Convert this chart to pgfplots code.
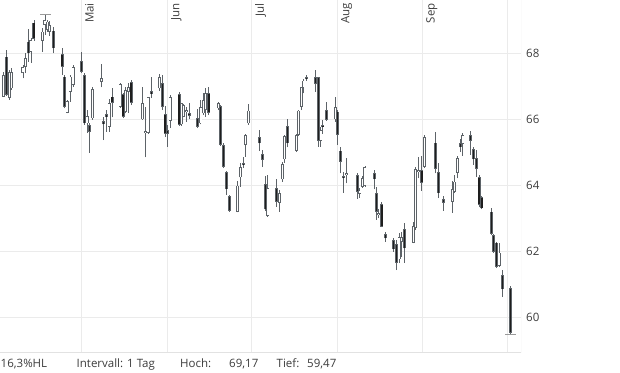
\documentclass[border=0pt]{standalone}
\usepackage{pgfplots}
\pgfplotsset{compat=1.18}
\usepackage{pgfplotstable}
\usepackage{fontspec}
\setmainfont{Open Sans}
\definecolor{gridc}{HTML}{EBEBEB}
\definecolor{framec}{HTML}{E2E2E2}
\definecolor{wickc}{HTML}{5D6368}
\definecolor{fillc}{HTML}{1E1E1E}
\definecolor{textc}{HTML}{3C3C3C}
\definecolor{hlc}{HTML}{9A9A9A}

% x = horizontal position (px scale, May 1 = 81), o h l c = open high low close
\pgfplotstableread{
x o h l c
3.7 66.68 67.43 66.66 67.33
9.3 66.63 67.49 66.58 67.43
11.5 66.93 67.54 66.88 67.43
23 67.39 67.64 67.23 67.57
25.5 67.58 68.01 67.39 67.84
31 68.04 68.45 67.71 68.39
42.3 68.37 68.75 68.04 68.65
45 68.85 69.17 68.55 69.00
47.3 68.70 69.00 68.64 68.95
49.7 68.65 68.97 68.51 68.85
67 66.19 66.58 66.17 66.55
70 66.83 67.33 66.53 67.28
73 67.03 67.64 66.98 67.58
87 65.87 66.27 65.57 66.09
92.3 66.02 66.98 65.97 66.91
101.7 67.13 67.67 66.96 67.23
109 65.77 66.60 65.62 66.49
120 66.36 67.09 66.33 67.06
125.7 66.22 66.96 66.17 66.88
128.3 66.83 67.09 66.18 66.96
142.5 65.99 66.96 65.97 66.48
145.3 65.57 66.37 64.84 65.64
148 65.57 66.68 65.55 66.66
159.3 66.93 67.36 66.86 67.26
170 65.95 66.73 65.72 66.66
181.3 65.84 66.49 65.80 66.48
183.7 66.07 66.45 66.05 66.42
186.3 66.22 66.37 65.92 66.27
200.8 65.87 66.58 65.84 66.37
203.3 66.17 66.80 66.12 66.58
205.5 66.27 66.95 66.07 66.79
218.7 66.32 66.53 66.27 66.48
237.7 63.19 64.13 63.17 63.98
240.7 64.23 64.66 63.95 64.54
245.3 65.21 65.55 64.86 65.52
248.3 65.87 66.45 65.82 66.25
267.8 63.06 64.30 63.04 63.90
279.2 63.46 63.85 63.19 63.75
282.2 64.17 64.71 64.10 64.64
284.5 64.78 65.52 64.68 65.48
296.2 65.04 65.55 65.01 65.52
298.5 65.52 66.27 65.48 66.25
301.2 66.37 66.98 66.27 66.96
303.8 66.96 67.20 66.78 67.16
320.8 65.34 65.77 65.16 65.67
335.2 65.99 66.66 65.92 66.37
346.5 64.30 64.81 64.05 64.37
359.8 63.73 63.90 63.60 63.83
362.3 63.95 64.27 63.92 64.20
364.9 63.97 64.57 63.95 64.55
378.7 63.09 63.26 62.99 63.14
399 61.75 62.54 61.63 62.43
401.4 62.28 62.58 61.83 62.43
413.2 62.25 62.89 62.23 62.76
415.3 62.69 64.55 62.64 64.48
418.5 64.40 64.86 64.20 64.45
424.7 64.55 65.52 64.51 65.46
452.5 63.49 64.13 63.16 63.87
454.5 63.80 64.30 63.75 64.10
457.2 64.37 64.88 64.20 64.81
462.8 65.24 65.57 64.88 65.52
499 61.55 62.25 61.53 61.95
}\up

\pgfplotstableread{
x o h l c
6.3 67.89 68.09 66.70 66.73
28.3 68.34 68.72 67.74 67.99
34 68.92 69.00 68.37 68.42
53.3 68.68 68.78 67.99 68.14
62 67.96 68.14 67.33 67.58
64.3 67.28 67.33 66.32 66.36
81.5 67.76 68.04 67.39 67.43
84.3 67.33 67.39 65.82 65.87
89.3 65.82 65.87 64.98 65.62
103.3 65.94 66.07 65.36 65.84
106.3 66.14 66.27 65.62 66.05
112 66.68 66.93 66.05 66.48
123 66.76 66.79 66.03 66.07
131 67.11 67.18 66.42 66.49
151.7 66.85 67.28 66.63 66.75
162.3 67.08 67.33 66.27 66.36
165 66.15 66.39 65.45 65.55
167.3 65.67 65.82 65.16 65.55
179 66.76 66.81 65.80 65.82
189 66.17 66.48 65.99 66.09
197.5 66.02 66.29 65.72 65.77
208.8 66.79 66.98 66.12 66.18
220.7 66.39 66.42 65.18 65.21
223.3 65.21 65.26 64.51 64.54
226.3 64.39 64.43 63.70 63.87
229.3 63.67 63.70 63.19 63.22
243.7 64.66 64.86 64.51 64.60
259.2 65.45 65.67 65.04 65.26
262.2 64.93 65.06 64.54 64.76
265.2 64.02 64.27 63.22 63.26
276.2 63.90 64.17 63.34 63.49
287.2 65.79 65.99 65.14 65.26
306.5 67.26 67.33 67.16 67.20
315.5 67.26 67.49 66.83 67.06
318.5 67.26 67.28 65.16 65.34
322.8 65.82 65.97 65.55 65.75
326.5 66.27 66.53 65.95 65.97
337.5 66.22 66.27 65.21 65.52
340.2 65.04 65.14 64.35 64.71
343.2 64.27 64.40 63.77 64.20
357.2 64.30 64.37 63.57 63.80
374.2 64.37 64.45 63.87 64.17
376.5 63.75 63.95 62.94 63.19
381.8 63.42 63.49 62.72 62.74
385.2 62.52 62.58 62.28 62.38
393.5 62.33 62.38 61.98 62.05
396.2 62.21 62.33 61.42 61.63
404.3 62.66 62.84 61.65 62.08
421.8 64.45 64.88 63.83 64.07
435.2 65.28 65.62 64.35 64.48
438.5 64.40 64.66 63.60 63.75
443.5 63.58 63.67 63.22 63.46
460.2 65.26 65.39 65.01 65.14
470.2 65.52 65.65 64.91 65.34
473.2 65.08 65.16 64.61 64.78
476.2 64.81 65.06 64.25 64.48
479 64.23 64.30 63.32 63.39
481.8 63.63 63.67 63.26 63.29
491.2 63.19 63.29 62.48 62.53
493.5 62.48 62.53 61.95 61.98
496.2 62.25 62.28 61.48 61.51
502.3 61.27 61.42 60.60 60.84
510.3 60.87 60.94 59.47 59.52
}\down

\pgfplotsset{
  eb/.style={draw=none, mark=none, forget plot},
  wick/.style={eb,
    error bars/.cd, y dir=plus, y explicit, error mark=none,
    error bar style={draw=wickc, line width=0.8pt}},
  body/.style={eb,
    error bars/.cd, y dir=plus, y explicit, error mark=none,
    error bar style={draw=#1, line width=3pt, line cap=butt}},
  inner/.style={eb,
    error bars/.cd, y dir=plus, y explicit, error mark=none,
    error bar style={draw=#1, line width=1.4pt, line cap=butt}},
}

\begin{document}
\begin{tikzpicture}
\useasboundingbox (0,-20pt) rectangle (620pt,352pt);
\begin{axis}[
  at={(0,0)}, anchor=south west,
  scale only axis, width=521pt, height=352pt,
  xmin=0, xmax=521, ymin=58.939, ymax=69.606,
  axis line style={draw=none},
  grid=major, grid style={draw=gridc, line width=0.8pt},
  major tick length=0pt,
  xtick={81,167,251,337,422,507},
  xticklabels={Mai,Jun,Jul,Aug,Sep,},
  xticklabel pos=upper,
  xticklabel style={xshift=4pt, yshift=-3pt, rotate=90, anchor=north east,
    inner sep=0pt, font=\fontsize{11.5}{12}\selectfont, text=textc},
  ytick={60,62,64,66,68},
  yticklabel pos=right,
  yticklabel style={anchor=west, xshift=5pt, inner sep=0pt,
    font=\fontsize{11.5}{12}\selectfont, text=textc},
  /pgf/number format/assume math mode=true,
]
% frame (bottom and right)
\draw[framec, line width=0.8pt] (rel axis cs:0,0) -- (rel axis cs:1,0) -- (rel axis cs:1,1);
% wicks
\addplot[wick] table[x=x, y=l, y error plus expr=\thisrow{h}-\thisrow{l}] {\up};
\addplot[wick] table[x=x, y=l, y error plus expr=\thisrow{h}-\thisrow{l}] {\down};
% rising candles: hollow
\addplot[body=wickc] table[x=x, y=o, y error plus expr=\thisrow{c}-\thisrow{o}] {\up};
\addplot[inner=white] table[x=x, y expr=\thisrow{o}+0.022, y error plus expr={max(\thisrow{c}-\thisrow{o}-0.044,0)}] {\up};
% falling candles: filled
\addplot[body=wickc] table[x=x, y=c, y error plus expr=\thisrow{o}-\thisrow{c}] {\down};
\addplot[inner=fillc] table[x=x, y expr=\thisrow{c}+0.022, y error plus expr={max(\thisrow{o}-\thisrow{c}-0.044,0)}] {\down};
% period high and low markers
\addplot[draw=none, mark=none, forget plot,
  error bars/.cd, x dir=both, x explicit, error mark=none,
  error bar style={draw=hlc, line width=0.8pt}]
  coordinates {(45.3,69.17) +- (5.3,0) (510.5,59.47) +- (5.5,0)};
\end{axis}
\begin{scope}[every node/.style={anchor=base west, inner sep=0pt, text=textc,
    font=\fontsize{11.5}{12}\selectfont}]
\node at (0.5pt,-15pt) {16,3\%HL};
\node at (76.5pt,-15pt) {Intervall: 1 Tag};
\node at (180pt,-15pt) {Hoch:};
\node at (229pt,-15pt) {69,17};
\node at (276.5pt,-15pt) {Tief:};
\node at (307pt,-15pt) {59,47};
\end{scope}
\end{tikzpicture}
\end{document}
